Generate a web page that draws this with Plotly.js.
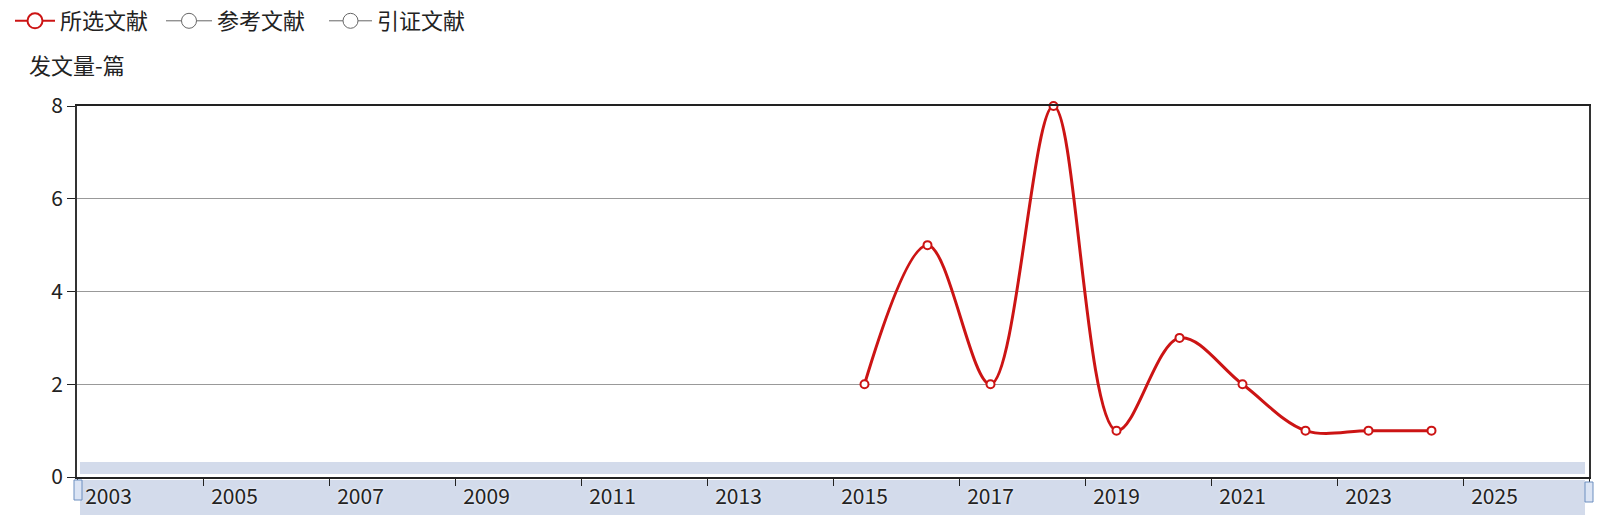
<!DOCTYPE html>
<html>
<head>
<meta charset="utf-8">
<script src="https://cdn.plot.ly/plotly-3.0.1.min.js"></script>
<style>
	body { margin: 0; background: #fff; }
	#chart { width: 1600px; height: 521px; }
</style>
</head>
<body>
<div id="chart"></div>
<script>
"use strict";
// all years on the category axis
var years = ['2003','2004','2005','2006','2007','2008','2009','2010','2011','2012','2013','2014',
	'2015','2016','2017','2018','2019','2020','2021','2022','2023','2024','2025','2026'];
// 所选文献 per year
var selYears = ['2015','2016','2017','2018','2019','2020','2021','2022','2023','2024'];
var selCounts = [2, 5, 2, 8, 1, 3, 2, 1, 1, 1];
var seriesNames = ['所选文献', '参考文献', '引证文献'];
var seriesColors = ['#cc1414', '#666666', '#666666'];
var yTicks = [0, 2, 4, 6, 8];

var fontFam = '"Microsoft YaHei", "Noto Sans CJK SC", sans-serif';

var trace1 = {
	x: selYears,
	y: selCounts,
	name: seriesNames[0],
	type: 'scatter',
	mode: 'lines+markers',
	line: { color: seriesColors[0], width: 3, shape: 'spline', smoothing: 1 },
	marker: { symbol: 'circle', size: 8, color: '#ffffff', line: { color: seriesColors[0], width: 2 } },
	cliponaxis: false,
	showlegend: false
};

// legend entries (ECharts style: thin line + big open circle)
function legendItem(i) {
	return {
		x: [years[0]], y: [null], name: seriesNames[i], type: 'scatter', mode: 'lines+markers',
		legend: i == 0 ? 'legend' : 'legend' + (i + 1),
		line: { color: seriesColors[i], width: i == 0 ? 2 : 1 },
		marker: { symbol: 'circle', size: 15, color: '#ffffff', line: { color: seriesColors[i], width: i == 0 ? 2 : 1 } }
	};
}

// slider area, pixel -> paper (plot: x 77..1589, y 106..477)
function px(x) { return (x - 77) / 1512; }
function py(y) { return (477 - y) / 371; }

function legendBox(x, w) {
	return {
		orientation: 'h',
		xref: 'container', yref: 'container',
		x: x / 1600, y: 1, xanchor: 'left', yanchor: 'top',
		font: { family: fontFam, size: 22, color: '#222' },
		itemwidth: w,
		bgcolor: 'rgba(0,0,0,0)'
	};
}

var layout = {
	width: 1600,
	height: 521,
	margin: { l: 77, r: 11, t: 106, b: 44 },
	paper_bgcolor: '#ffffff',
	plot_bgcolor: 'rgba(0,0,0,0)',
	font: { family: fontFam, size: 20, color: '#222' },
	showlegend: true,
	legend: legendBox(10, 40),
	legend2: legendBox(161, 46),
	legend3: legendBox(324, 43),
	xaxis: {
		type: 'category',
		categoryorder: 'array',
		categoryarray: years,
		range: [-0.5, years.length - 0.5],
		tickmode: 'linear',
		tick0: 0,
		dtick: 2,
		tickson: 'boundaries',
		ticks: 'outside',
		ticklen: 7,
		tickcolor: '#222',
		showgrid: false,
		showline: true,
		linecolor: '#222',
		linewidth: 2,
		mirror: true,
		zeroline: false,
		tickfont: { family: fontFam, size: 21, color: '#222', shadow: '0px 0px 3px #ffffff' },
		fixedrange: true
	},
	yaxis: {
		range: [0, 8],
		tickvals: yTicks,
		ticks: 'outside',
		ticklen: 8,
		tickcolor: '#222',
		showgrid: true,
		gridcolor: '#999999',
		gridwidth: 1,
		showline: true,
		linecolor: '#333',
		linewidth: 2,
		mirror: true,
		zeroline: false,
		tickfont: { family: fontFam, size: 21, color: '#222' },
		fixedrange: true
	},
	annotations: [{
		text: '发文量-篇',
		xref: 'paper', yref: 'paper',
		x: 0, y: 1, xanchor: 'center', yanchor: 'middle',
		yshift: 42, showarrow: false,
		font: { family: fontFam, size: 22, color: '#222' }
	}],
	shapes: [
		// data zoom slider band, split by the axis line
		{ type: 'rect', xref: 'paper', yref: 'paper', layer: 'below',
			x0: px(80), x1: px(1585), y0: py(474), y1: py(462),
			fillcolor: 'rgba(196,207,228,0.75)', line: { width: 0 } },
		{ type: 'rect', xref: 'paper', yref: 'paper', layer: 'below',
			x0: px(80), x1: px(1585), y0: py(515), y1: py(480),
			fillcolor: 'rgba(196,207,228,0.75)', line: { width: 0 } },
		// slider handles
		{ type: 'rect', xref: 'paper', yref: 'paper', layer: 'above',
			x0: px(74), x1: px(82), y0: py(500), y1: py(480),
			fillcolor: '#dbe4f4', line: { color: '#6d8fc0', width: 1 } },
		{ type: 'rect', xref: 'paper', yref: 'paper', layer: 'above',
			x0: px(1585), x1: px(1593), y0: py(502), y1: py(482),
			fillcolor: '#dbe4f4', line: { color: '#6d8fc0', width: 1 } }
	]
};

Plotly.newPlot(document.getElementById('chart'),
	[trace1, legendItem(0), legendItem(1), legendItem(2)], layout,
	{ displayModeBar: false, staticPlot: true });
</script>
</body>
</html>
